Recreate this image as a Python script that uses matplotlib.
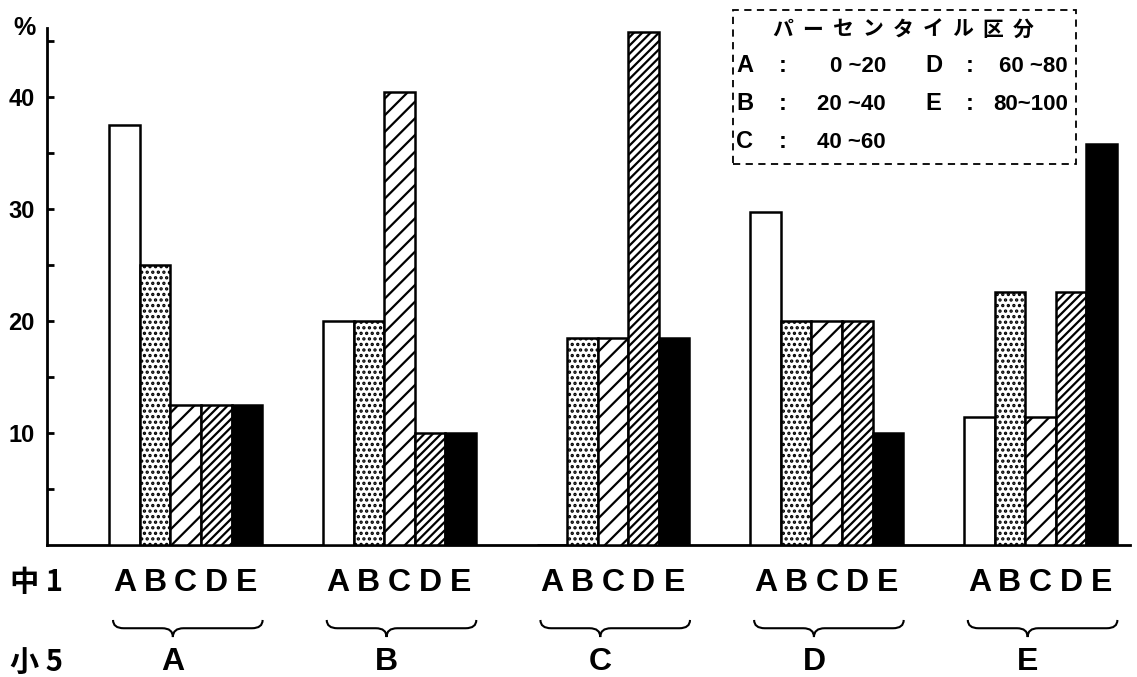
import matplotlib
matplotlib.use("Agg")
import matplotlib.pyplot as plt
import numpy as np
from matplotlib.path import Path
from matplotlib.patches import PathPatch, Rectangle
import matplotlib.transforms as mtransforms

# data: percentage of 中1 percentile groups (A-E) for each 小5 percentile group
groups = ["A", "B", "C", "D", "E"]
sub_labels = ["A", "B", "C", "D", "E"]
vals_A = [37.5, 25.0, 12.5, 12.5, 12.5]
vals_B = [20.0, 20.0, 40.5, 10.0, 10.0]
vals_C = [0.0, 18.5, 18.5, 45.8, 18.5]
vals_D = [29.8, 20.0, 20.0, 20.0, 10.0]
vals_E = [11.4, 22.6, 11.4, 22.6, 35.8]
legend_rows = [("A", "0 ~20"), ("B", "20 ~40"), ("C", "40 ~60"),
               ("D", "60 ~80"), ("E", "80~100")]
legend_title = "パーセンタイル区分"

W, H = 1137, 677
fig = plt.figure(figsize=(W / 100, H / 100), dpi=100)
ax = fig.add_axes([47 / W, 1 - 545 / H, (1130 - 47) / W, (545 - 28) / H])

plt.rcParams["hatch.linewidth"] = 1.6

latin = "Liberation Sans"
cjk = ["Noto Sans CJK JP", "DejaVu Sans"]

styles = [
    dict(facecolor="white", hatch=None),
    dict(facecolor="white", hatch="..."),
    dict(facecolor="white", hatch="//"),
    dict(facecolor="white", hatch="////"),
    dict(facecolor="black", hatch=None),
]

table = np.array([vals_A, vals_B, vals_C, vals_D, vals_E])
x = np.arange(len(groups))
w = 0.143
blend = mtransforms.blended_transform_factory(ax.transData, ax.transAxes)
for j in range(5):
    pos = x + (j - 2) * w
    ax.bar(pos, table[:, j], width=w, edgecolor="black", linewidth=1.8,
           zorder=3, **styles[j])
    for p in pos:
        ax.text(p, -0.073, sub_labels[j], transform=blend,
                ha="center", va="center", fontsize=23, fontweight="bold",
                family=latin, clip_on=False)

ax.set_xlim(-0.649, 4.419)
ax.set_ylim(0, 46.2)
for s in ["top", "right"]:
    ax.spines[s].set_visible(False)
ax.spines["left"].set_linewidth(2)
ax.spines["bottom"].set_linewidth(2)
ax.set_xticks([])
ax.set_yticks([10, 20, 30, 40])
ax.set_yticks([5, 15, 25, 35, 45], minor=True)
ax.tick_params(axis="y", which="both", direction="in", length=5, width=2, pad=9)
for lab in ax.get_yticklabels():
    lab.set_fontsize(17)
    lab.set_fontweight("bold")
    lab.set_family(latin)

# braces + 小5 group letters
y_top, y_line, y_tip = -0.145, -0.161, -0.178
r = 0.05
for c, g in zip(x, groups):
    x0, x1, xt = c - 0.34, c + 0.36, c - 0.06
    verts = [(x0, y_top), (x0, y_line), (x0 + r, y_line),
             (xt - r, y_line), (xt, y_line), (xt, y_tip),
             (xt, y_line), (xt + r, y_line),
             (x1 - r, y_line), (x1, y_line), (x1, y_top)]
    codes = [Path.MOVETO, Path.CURVE3, Path.CURVE3,
             Path.LINETO, Path.CURVE3, Path.CURVE3,
             Path.CURVE3, Path.CURVE3,
             Path.LINETO, Path.CURVE3, Path.CURVE3]
    ax.add_patch(PathPatch(Path(verts, codes), transform=blend, fill=False,
                           lw=1.5, edgecolor="black", clip_on=False))
    ax.text(xt, -0.226, g, transform=blend, ha="center", va="center",
            fontsize=23, fontweight="bold", family=latin, clip_on=False)


def px(xp, yp):
    return xp / W, 1 - yp / H


fig.text(*px(24, 28), "%", ha="center", va="center", fontsize=18,
         fontweight="bold", family=latin)
fig.text(*px(37, 582), "中 1", ha="center", va="center", fontsize=21,
         fontweight="bold", family=cjk)
fig.text(*px(37, 662), "小 5", ha="center", va="center", fontsize=21,
         fontweight="bold", family=cjk)

# legend box
bx0, by0, bx1, by1 = 733, 10, 1076, 164
fig.patches.append(Rectangle(px(bx0, by1), (bx1 - bx0) / W, (by1 - by0) / H,
                             transform=fig.transFigure, fill=False,
                             linestyle=(0, (4, 3)), lw=1.3, edgecolor="black"))
for i, ch in enumerate(legend_title):
    fig.text(*px(783 + i * 30, 29), ch, ha="center", va="center",
             fontsize=15, fontweight="bold", family=cjk)
row_y = [66, 104, 142]
for k, (letter, rng) in enumerate(legend_rows):
    col = k // 3
    yy = row_y[k % 3]
    lx = 736 if col == 0 else 925
    cx = 783 if col == 0 else 970
    rx = 886 if col == 0 else 1068
    fig.text(*px(lx, yy), letter, ha="left", va="center", fontsize=17,
             fontweight="bold", family=latin)
    fig.text(*px(cx, yy), ":", ha="center", va="center", fontsize=17,
             fontweight="bold", family=latin)
    fig.text(*px(rx, yy), rng, ha="right", va="center", fontsize=16,
             fontweight="bold", family=latin)

fig.savefig("out.png", dpi=100)
